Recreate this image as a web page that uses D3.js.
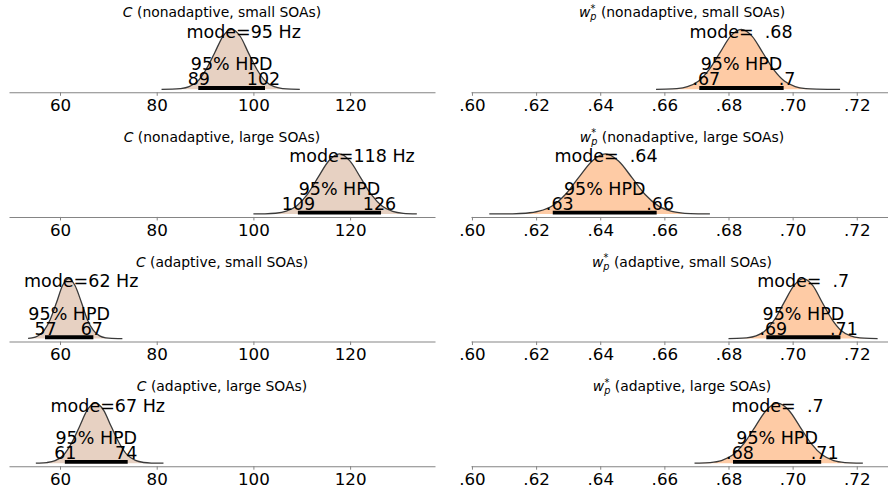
<!DOCTYPE html>
<html>
<head>
<meta charset="utf-8">
<script src="https://cdn.jsdelivr.net/npm/d3@7"></script>
<style>
  body { margin: 0; background: #fff; }
  svg { display: block; font-family: "DejaVu Sans", sans-serif; }
</style>
</head>
<body>
<svg id="chart" width="888" height="494"></svg>
<script>
// ---- posterior summaries -------------------------------------------------
const conditions = ["nonadaptive, small SOAs", "nonadaptive, large SOAs",
                    "adaptive, small SOAs", "adaptive, large SOAs"];

// C (Hz)
const cModes    = [95.4, 117.8, 61.8, 67.3];
const cHpdLow   = [88.6, 109.2, 56.9, 61.0];
const cHpdHigh  = [102.4, 126.4, 66.9, 74.0];
const cTicks    = [60, 80, 100, 120];
const cTickLabels = ["60", "80", "100", "120"];

// w_p*
const wModes    = [0.6839, 0.6418, 0.7033, 0.6953];
const wHpdLow   = [0.6709, 0.6252, 0.6918, 0.6814];
const wHpdHigh  = [0.6972, 0.6576, 0.7149, 0.7089];
const wTicks    = [0.60, 0.62, 0.64, 0.66, 0.68, 0.70, 0.72];
const wTickLabels = [".60", ".62", ".64", ".66", ".68", ".70", ".72"];

// kernel density estimates (grid, relative density)
const cGrid = [
  [81.0, 83.2, 84.9, 86.7, 88.5, 90.2, 92.0, 93.7, 95.5, 97.3, 99.0, 100.8, 102.5, 104.3, 106.1, 107.8, 109.6],
  [100.0, 102.4, 104.6, 106.8, 109.0, 111.2, 113.4, 115.6, 117.8, 120.0, 122.2, 124.4, 126.6, 128.8, 131.0, 133.8],
  [53.4, 54.2, 55.4, 56.7, 58.0, 59.3, 60.5, 61.8, 63.1, 64.4, 65.6, 66.9, 68.2, 69.5, 70.7, 72.0, 72.9],
  [55.0, 55.7, 57.3, 59.0, 60.7, 62.3, 64.0, 65.6, 67.3, 69.0, 70.6, 72.3, 73.9, 75.6, 77.3, 78.9, 80.6, 81.4]
];
const cDensity = [
  [0.0002, 0.0022, 0.0115, 0.045, 0.137, 0.328, 0.61, 0.884, 1, 0.88, 0.603, 0.322, 0.134, 0.043, 0.0108, 0.0021, 0.0003],
  [0.0003, 0.0023, 0.0112, 0.046, 0.138, 0.33, 0.612, 0.886, 1, 0.879, 0.6, 0.32, 0.132, 0.042, 0.0106, 0.0014],
  [0.0035, 0.0105, 0.043, 0.134, 0.323, 0.605, 0.881, 1, 0.884, 0.61, 0.327, 0.137, 0.045, 0.0114, 0.0023, 0.0004, 0.0001],
  [0.001, 0.0021, 0.0108, 0.043, 0.133, 0.322, 0.604, 0.88, 1, 0.885, 0.61, 0.329, 0.138, 0.046, 0.0116, 0.0023, 0.0004, 0.0001]
];
const wGrid = [
  [0.6574, 0.6605, 0.6639, 0.6672, 0.6706, 0.6739, 0.6773, 0.6806, 0.6840, 0.6874, 0.6907, 0.6941, 0.6974, 0.7008, 0.7041, 0.7075, 0.7108, 0.7148],
  [0.6054, 0.6085, 0.6127, 0.6168, 0.6209, 0.6251, 0.6292, 0.6333, 0.6375, 0.6416, 0.6457, 0.6499, 0.6540, 0.6581, 0.6623, 0.6664, 0.6705, 0.6742],
  [0.6800, 0.6826, 0.6856, 0.6886, 0.6915, 0.6945, 0.6974, 0.7004, 0.7033, 0.7063, 0.7092, 0.7122, 0.7151, 0.7181, 0.7210, 0.7240, 0.7265],
  [0.6694, 0.6708, 0.6743, 0.6778, 0.6813, 0.6848, 0.6883, 0.6918, 0.6953, 0.6988, 0.7023, 0.7058, 0.7093, 0.7128, 0.7163, 0.7198, 0.7219]
];
const wDensity = [
  [0.0003, 0.0021, 0.0109, 0.044, 0.134, 0.324, 0.606, 0.882, 1, 0.883, 0.609, 0.327, 0.137, 0.045, 0.0113, 0.0022, 0.0004, 0.0001],
  [0.0001, 0.0003, 0.0021, 0.0112, 0.045, 0.136, 0.327, 0.609, 0.884, 1, 0.881, 0.605, 0.323, 0.134, 0.043, 0.0108, 0.0021, 0.0004],
  [0.0003, 0.0022, 0.0111, 0.044, 0.135, 0.326, 0.607, 0.883, 1, 0.882, 0.606, 0.324, 0.135, 0.044, 0.011, 0.0021, 0.0004],
  [0.0009, 0.0021, 0.011, 0.044, 0.135, 0.325, 0.607, 0.882, 1, 0.882, 0.607, 0.325, 0.135, 0.044, 0.011, 0.0021, 0.0008]
];

// ---- layout ---------------------------------------------------------------
const svg = d3.select("#chart");
const firstAxisY = 92.3, rowStep = 124.63, panelH = 66;
const labelFont = 17.5, tickFont = 16.7, titleFont = 13.9;

const xC = d3.scaleLinear().domain([49.45, 137.56]).range([9, 435]);
const xW = d3.scaleLinear().domain([0.5997, 0.7313]).range([471, 893]);

const fmtC = v => String(Math.round(v));
const fmtW = v => String(Math.round(v * 100) / 100).replace(/^0/, "");

const columns = [
  { x: xC, modes: cModes, lo: cHpdLow, hi: cHpdHigh, grid: cGrid, dens: cDensity,
    ticks: cTicks, tickLabels: cTickLabels, fill: "#e7d1c2",
    modeText: v => "mode=" + fmtC(v) + " Hz", fmt: fmtC,
    modeDx: 12.5, loDx: 0.5, hiDx: -1.5, symbol: "C" },
  { x: xW, modes: wModes, lo: wHpdLow, hi: wHpdHigh, grid: wGrid, dens: wDensity,
    ticks: wTicks, tickLabels: wTickLabels, fill: "#fecba5",
    modeText: v => "mode=  " + fmtW(v), fmt: fmtW,
    modeDx: 0, loDx: 7, hiDx: 3.5, symbol: "w" }
];

columns.forEach((col, ci) => {
  conditions.forEach((cond, ri) => {
    const axisY = firstAxisY + ri * rowStep;
    const g = svg.append("g");
    const x = col.x;
    const pts = col.grid[ri].map((gx, k) => [gx, col.dens[ri][k]]);
    const ymax = d3.max(pts, p => p[1]);
    const y = d3.scaleLinear().domain([-0.05 * ymax, 1.05 * ymax]).range([axisY, axisY - panelH]);

    // x axis
    const axis = d3.axisBottom(x)
      .tickValues(col.ticks)
      .tickFormat((d, i) => col.tickLabels[i])
      .tickSizeInner(3.5).tickSizeOuter(0).tickPadding(3.35);
    const ag = g.append("g").attr("transform", `translate(0,${axisY})`).call(axis);
    ag.select(".domain").attr("stroke", "#858585").attr("stroke-width", 1.1);
    ag.selectAll(".tick line").attr("stroke", "#858585").attr("stroke-width", 1);
    ag.selectAll(".tick text").attr("fill", "#000")
      .style("font-size", tickFont + "px").style("font-family", '"DejaVu Sans", sans-serif');

    // density
    const area = d3.area().x(p => x(p[0])).y0(y(0)).y1(p => y(p[1])).curve(d3.curveMonotoneX);
    const line = d3.line().x(p => x(p[0])).y(p => y(p[1])).curve(d3.curveMonotoneX);
    g.append("path").datum(pts).attr("d", area).attr("fill", col.fill);
    g.append("path").datum(pts).attr("d", line).attr("fill", "none")
      .attr("stroke", "#3a3a3a").attr("stroke-width", 1.3);

    // HPD bar
    const lo = col.lo[ri], hi = col.hi[ri];
    g.append("line").attr("x1", x(lo)).attr("x2", x(hi))
      .attr("y1", axisY - 4.3).attr("y2", axisY - 4.3)
      .attr("stroke", "#000").attr("stroke-width", 3.8);

    // labels
    const txt = (s, tx, ty, size) => g.append("text")
      .attr("x", tx).attr("y", ty).attr("text-anchor", "middle")
      .style("font-size", size + "px").style("white-space", "pre")
      .attr("fill", "#000").text(s);

    txt(col.modeText(col.modes[ri]), x(col.modes[ri]) + col.modeDx, axisY - 54.5, labelFont);
    txt("95% HPD", (x(lo) + x(hi)) / 2, axisY - 22, labelFont);
    txt(col.fmt(lo), x(lo) + col.loDx, axisY - 7, labelFont);
    txt(col.fmt(hi), x(hi) + col.hiDx, axisY - 7, labelFont);

    // panel title
    const cx = (x.range()[0] + x.range()[1]) / 2;
    const t = g.append("text").attr("x", cx).attr("y", axisY - 75)
      .attr("text-anchor", "middle").style("font-size", titleFont + "px")
      .style("white-space", "pre").attr("fill", "#000");
    t.append("tspan").style("font-style", "italic").text(col.symbol);
    if (col.symbol === "w") {
      t.append("tspan").style("font-style", "italic").style("font-size", "9.7px")
        .attr("dy", 3).text("p");
      t.append("tspan").style("font-size", "9.7px").attr("dx", -6).attr("dy", -8.5).text("*");
      t.append("tspan").attr("dx", 1.2).attr("dy", 5.5).text(" (" + cond + ")");
    } else {
      t.append("tspan").text(" (" + cond + ")");
    }
  });
});
</script>
</body>
</html>
